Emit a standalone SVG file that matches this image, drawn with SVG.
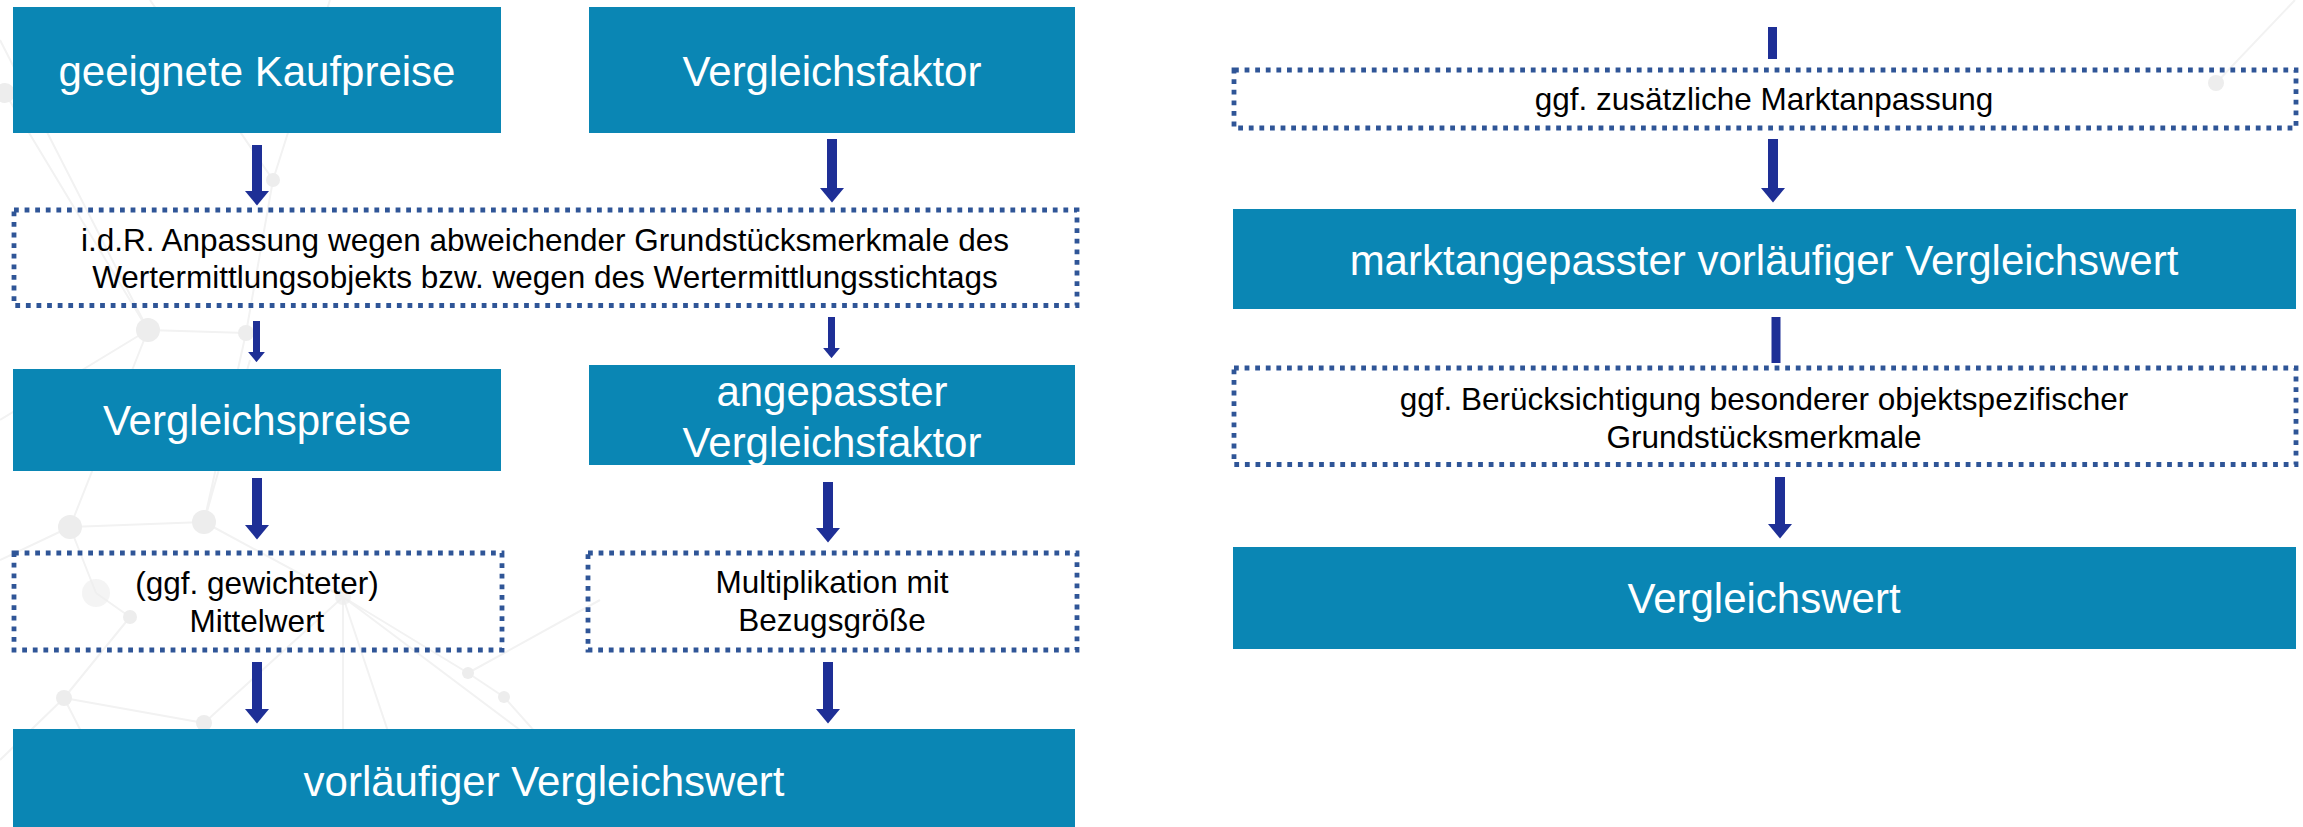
<svg xmlns="http://www.w3.org/2000/svg" width="2303" height="827" viewBox="0 0 2303 827">
<style>
.box{fill:#0A86B4}
.dbox{fill:none;stroke:#2F5597;stroke-width:4.8;stroke-dasharray:4.8 5.8}
.big{font-family:"Liberation Sans",Arial,sans-serif;font-size:42px;fill:#FFFFFF;text-anchor:middle}
.small{font-family:"Liberation Sans",Arial,sans-serif;font-size:31.5px;fill:#000000;text-anchor:middle}
.arr{stroke:#1E2F96;fill:none;marker-end:url(#head)}
.bar{stroke:#1E2F96;fill:none}
.bgl{stroke:#F2F2F2;stroke-width:2;fill:none}
.bgn{fill:#EDEDED}
</style>
<defs>
<marker id="head" viewBox="0 0 1.45 2.4" markerWidth="1.45" markerHeight="2.4" refX="0" refY="1.2" orient="auto" markerUnits="strokeWidth">
<path d="M0,0 L1.45,1.2 L0,2.4 Z" fill="#1E2F96"/>
</marker>
</defs>
<rect width="2303" height="827" fill="#FFFFFF"/>
<g id="background">
<path class="bgl" d="M0,40 L148,330 L246,333 L273,180 L150,0 M5,93 L148,330 M148,330 L70,527 M0,420 L148,330 M273,180 L330,0 M246,333 L204,522 M70,527 L204,522 M70,527 L96,593 M96,593 L130,617 M130,617 L64,698 M64,698 L204,723 M204,723 L343,597 M343,597 L204,522 M343,597 L468,673 M468,673 L504,697 M504,697 L620,827 M343,597 L343,827 M343,597 L420,827 M343,597 L560,760 M204,723 L250,827 M64,698 L0,760 M64,698 L130,827 M0,560 L70,527 M204,522 L250,360 M468,673 L600,600 M2216,83 L2295,0"/>
<circle class="bgn" cx="5" cy="93" r="10"/>
<circle class="bgn" cx="273" cy="180" r="7"/>
<circle class="bgn" cx="148" cy="330" r="12"/>
<circle class="bgn" cx="246" cy="333" r="8"/>
<circle class="bgn" cx="70" cy="527" r="12"/>
<circle class="bgn" cx="204" cy="522" r="12"/>
<circle class="bgn" cx="96" cy="593" r="14" opacity="0.6"/>
<circle class="bgn" cx="130" cy="617" r="7"/>
<circle class="bgn" cx="343" cy="597" r="8" opacity="0.7"/>
<circle class="bgn" cx="64" cy="698" r="8"/>
<circle class="bgn" cx="204" cy="723" r="8"/>
<circle class="bgn" cx="468" cy="673" r="6"/>
<circle class="bgn" cx="504" cy="697" r="6"/>
<circle class="bgn" cx="2216" cy="83" r="8"/>
</g>
<g id="connectors">
<line class="arr" x1="257" y1="145" x2="257" y2="191" stroke-width="10"/>
<line class="arr" x1="832" y1="139" x2="832" y2="188" stroke-width="10"/>
<line class="arr" x1="256.5" y1="321" x2="256.5" y2="352" stroke-width="7"/>
<line class="arr" x1="831.5" y1="317" x2="831.5" y2="348" stroke-width="7"/>
<line class="arr" x1="257" y1="478" x2="257" y2="525" stroke-width="10"/>
<line class="arr" x1="828" y1="482" x2="828" y2="528" stroke-width="10"/>
<line class="arr" x1="257" y1="662" x2="257" y2="709" stroke-width="10"/>
<line class="arr" x1="828" y1="662" x2="828" y2="709" stroke-width="10"/>
<line class="bar" x1="1772.5" y1="27" x2="1772.5" y2="59" stroke-width="9"/>
<line class="arr" x1="1773" y1="139" x2="1773" y2="188" stroke-width="10"/>
<line class="bar" x1="1776" y1="317" x2="1776" y2="363" stroke-width="9"/>
<line class="arr" x1="1780" y1="477" x2="1780" y2="524" stroke-width="10"/>
</g>
<g id="node-geeignete-kaufpreise">
<rect class="box" x="13" y="7" width="488" height="126"/>
<text class="big" x="257" y="86">geeignete Kaufpreise</text>
</g>
<g id="node-vergleichsfaktor">
<rect class="box" x="589" y="7" width="486" height="126"/>
<text class="big" x="832" y="86">Vergleichsfaktor</text>
</g>
<g id="node-anpassung">
<rect class="dbox" x="14" y="210" width="1063" height="95.5"/>
<text class="small" x="545" y="251">i.d.R. Anpassung wegen abweichender Grundstücksmerkmale des</text>
<text class="small" x="545" y="288">Wertermittlungsobjekts bzw. wegen des Wertermittlungsstichtags</text>
</g>
<g id="node-vergleichspreise">
<rect class="box" x="13" y="369" width="488" height="102"/>
<text class="big" x="257" y="435">Vergleichspreise</text>
</g>
<g id="node-angepasster-vergleichsfaktor">
<rect class="box" x="589" y="365" width="486" height="100"/>
<text class="big" x="832" y="406">angepasster</text>
<text class="big" x="832" y="457">Vergleichsfaktor</text>
</g>
<g id="node-mittelwert">
<rect class="dbox" x="14" y="553" width="488" height="97"/>
<text class="small" x="257" y="594">(ggf. gewichteter)</text>
<text class="small" x="257" y="632">Mittelwert</text>
</g>
<g id="node-multiplikation">
<rect class="dbox" x="588" y="553" width="489" height="97"/>
<text class="small" x="832" y="593">Multiplikation mit</text>
<text class="small" x="832" y="631">Bezugsgröße</text>
</g>
<g id="node-vorlaeufiger-vergleichswert">
<rect class="box" x="13" y="729" width="1062" height="98"/>
<text class="big" x="544" y="796">vorläufiger Vergleichswert</text>
</g>
<g id="node-marktanpassung">
<rect class="dbox" x="1234" y="70" width="1062" height="58"/>
<text class="small" x="1764" y="110">ggf. zusätzliche Marktanpassung</text>
</g>
<g id="node-marktangepasster">
<rect class="box" x="1233" y="209" width="1063" height="100"/>
<text class="big" x="1764" y="275">marktangepasster vorläufiger Vergleichswert</text>
</g>
<g id="node-beruecksichtigung">
<rect class="dbox" x="1234" y="368" width="1062" height="96.5"/>
<text class="small" x="1764" y="410">ggf. Berücksichtigung besonderer objektspezifischer</text>
<text class="small" x="1764" y="448">Grundstücksmerkmale</text>
</g>
<g id="node-vergleichswert">
<rect class="box" x="1233" y="547" width="1063" height="102"/>
<text class="big" x="1764" y="613">Vergleichswert</text>
</g>
</svg>
